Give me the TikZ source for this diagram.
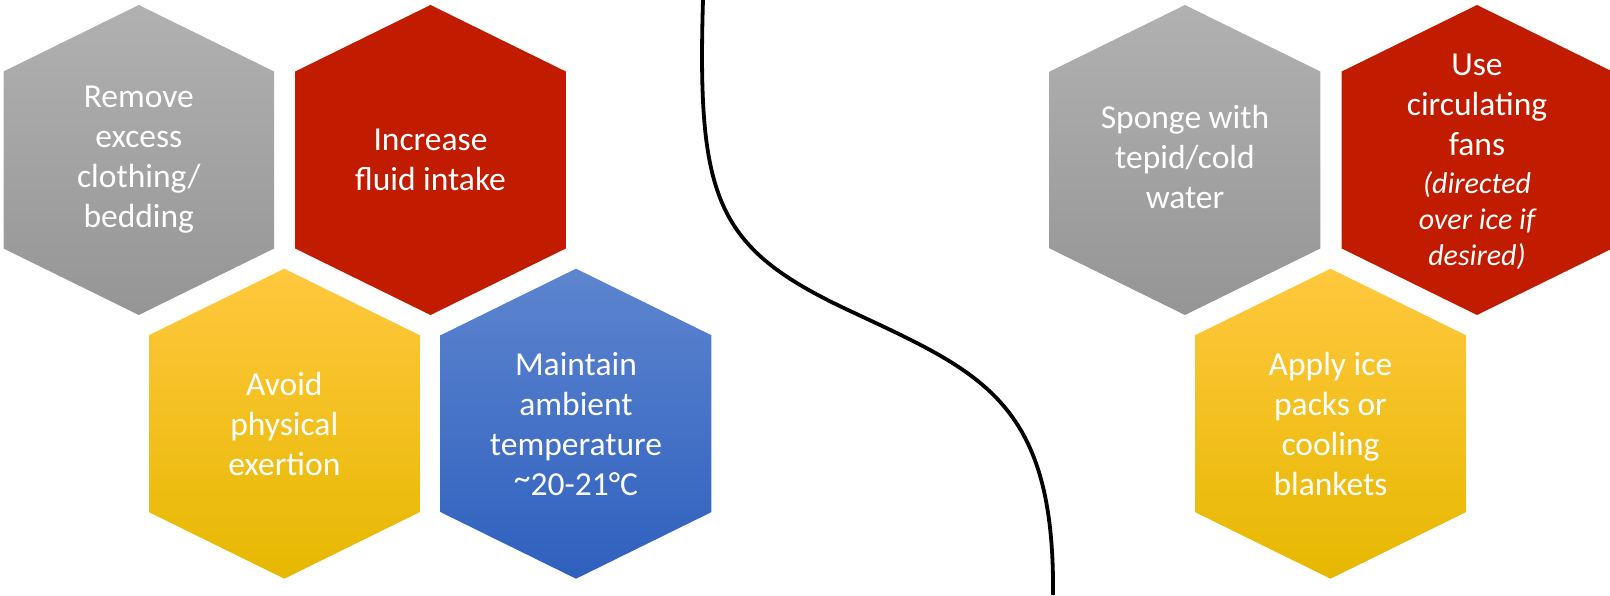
\documentclass[tikz,border=0pt]{standalone}
\usepackage{fontspec}
\setmainfont{Carlito}
\usepackage{tikz}
\usetikzlibrary{calc,backgrounds}

\definecolor{hexred}{RGB}{193,27,0}
\definecolor{graytop}{RGB}{177,177,177}
\definecolor{graybot}{RGB}{149,149,149}
\definecolor{goldtop}{RGB}{255,200,62}
\definecolor{goldmid}{RGB}{255,198,0}
\definecolor{goldbot}{RGB}{230,184,0}
\definecolor{bluetop}{RGB}{93,133,207}
\definecolor{bluebot}{RGB}{47,96,190}

\tikzset{
    hextext/.style={text=white, align=center, font=\fontsize{33.5}{40}\selectfont},
    hexagon/.style={insert path={++(0,155) -- ++(135.3,-66.5) -- ++(0,-177) -- ++(-135.3,-66.5) -- ++(-135.3,66.5) -- ++(0,177) -- cycle}},
    graygrad/.style={top color=graytop, bottom color=graybot},
    goldgrad/.style={top color=goldtop, middle color=goldmid, bottom color=goldbot},
    bluegrad/.style={top color=bluetop, bottom color=bluebot}
}

\begin{document}
\begin{tikzpicture}[x=1pt, y=1pt]
    \useasboundingbox (0,0) rectangle (1610,595);

    \node[hextext] (remove) at (138.8,435) {Remove\\excess\\clothing/\\bedding};
    
    \node[hextext] (fluid) at ($(remove) + (291.7,0)$) {Increase\\fluid intake};
    
    \node[hextext] (exertion) at ($(remove) + (145.5,-263.7)$) {Avoid\\physical\\exertion};
    
    \node[hextext] (ambient) at ($(exertion) + (291.7,0)$) {Maintain\\ambient\\temperature\\\raisebox{0.35ex}{\textasciitilde}20-21°C};
    
    \node[hextext] (sponge) at (1185,438) {Sponge with\\tepid/cold\\water};
    
    \node[hextext] (fans) at ($(sponge) + (292,-5)$) {Use\\circulating\\fans\\[-2pt]{\itshape\fontsize{30}{36}\selectfont (directed}\\[-4pt]{\itshape\fontsize{30}{36}\selectfont over ice if}\\[-4pt]{\itshape\fontsize{30}{36}\selectfont desired)}};
    
    \node[hextext] (icepacks) at ($(sponge) + (145.5,-266.7)$) {Apply ice\\packs or\\cooling\\blankets};
    
    
    
    \begin{pgfonlayer}{background}
    \shade[graygrad] ($(sponge.center) + (0,-3)$) [hexagon];
    \shade[graygrad] (remove.center) [hexagon];
    \fill[hexred] (fluid.center) [hexagon];
    \shade[goldgrad] (exertion.center) [hexagon];
    \shade[bluegrad] (ambient.center) [hexagon];
    \fill[hexred] ($(fans.center) + (0,2)$) [hexagon];
    \shade[goldgrad] (icepacks.center) [hexagon];
    \end{pgfonlayer}
    
    \draw[line width=3.8pt] (703,595) .. controls (697,395) and (716,347) .. (848,285)
        .. controls (980,223) and (1055,195) .. (1053,0);
    
\end{tikzpicture}
\end{document}
